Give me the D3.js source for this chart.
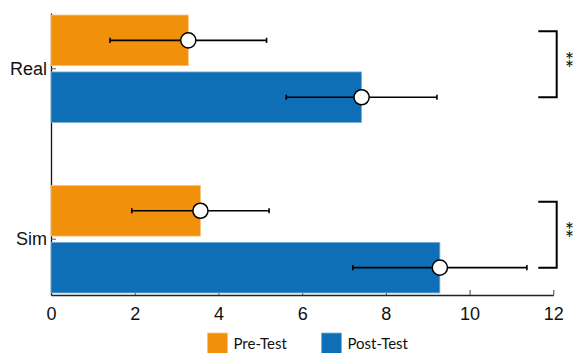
<!DOCTYPE html>
<html>
<head>
<meta charset="utf-8">
<script src="https://cdn.jsdelivr.net/npm/d3@7/dist/d3.min.js"></script>
<style>
  html, body { margin: 0; padding: 0; background: #fff; }
  svg { display: block; font-family: Lato, "Open Sans", sans-serif; }
</style>
</head>
<body>
<svg id="chart" width="573" height="353"></svg>
<script>
// Conditions and test phases
const categories = ["Real", "Sim"];
const phases = ["Pre-Test", "Post-Test"];

// Mean scores per condition
const preMeans = [3.28, 3.57];
const postMeans = [7.42, 9.29];

// Spread (± error) per condition
const preErr = [1.87, 1.64];
const postErr = [1.80, 2.08];

// Significance markers per condition
const sigLabels = ["**", "**"];

// Axis ticks
const xTicks = [0, 2, 4, 6, 8, 10, 12];

const colors = { "Pre-Test": "#F1910B", "Post-Test": "#0F6FB6" };
const edge = { "Pre-Test": "#F8C27A", "Post-Test": "#7FB2DC" };

const rows = categories.map((c, i) => ({
  cat: c,
  sig: sigLabels[i],
  items: [
    { phase: "Pre-Test", mean: preMeans[i], err: preErr[i] },
    { phase: "Post-Test", mean: postMeans[i], err: postErr[i] }
  ]
}));

const svg = d3.select("#chart");
const plotLeft = 51, plotRight = 553.3, plotTop = 13, plotBottom = 295;

const x = d3.scaleLinear().domain([0, 12]).range([plotLeft, plotRight]);
const y = d3.scaleBand().domain(categories).range([plotTop, plotBottom])
  .paddingInner(0.369).paddingOuter(0.012);
const yInner = d3.scaleBand().domain(phases).range([0, y.bandwidth()]).paddingInner(0.11);

// Axes (ticks point inward)
const xAxis = svg.append("g")
  .attr("transform", `translate(0,${plotBottom})`)
  .call(d3.axisBottom(x).tickValues(xTicks).tickSizeInner(-5).tickSizeOuter(0).tickPadding(12));
xAxis.select(".domain").attr("stroke", "#222").attr("stroke-width", 1.3);
xAxis.selectAll(".tick line").attr("stroke", "#444");
xAxis.selectAll("text").attr("font-size", 18).attr("fill", "#111");

const yAxis = svg.append("g")
  .attr("transform", `translate(${plotLeft},0)`)
  .call(d3.axisLeft(y).tickSizeInner(-5).tickSizeOuter(0).tickPadding(4));
yAxis.select(".domain").attr("stroke", "#111").attr("stroke-width", 1.3);
yAxis.selectAll(".tick line").attr("stroke", "#555");
yAxis.selectAll("text").attr("font-size", 18).attr("fill", "#111");

// Bars
const groups = svg.append("g").selectAll("g")
  .data(rows).join("g")
  .attr("transform", d => `translate(0,${y(d.cat)})`);

groups.selectAll("rect")
  .data(d => d.items).join("rect")
  .attr("x", x(0))
  .attr("y", d => yInner(d.phase))
  .attr("width", d => x(d.mean) - x(0))
  .attr("height", yInner.bandwidth())
  .attr("fill", d => colors[d.phase])
  .attr("stroke", d => edge[d.phase])
  .attr("stroke-width", 0.8);

// Error bars
const eb = groups.selectAll("g.err")
  .data(d => d.items).join("g").attr("class", "err")
  .attr("transform", d => `translate(0,${yInner(d.phase) + yInner.bandwidth() / 2})`);
eb.append("line")
  .attr("x1", d => x(d.mean - d.err)).attr("x2", d => x(d.mean + d.err))
  .attr("stroke", "#000").attr("stroke-width", 1.6);
eb.selectAll("line.cap")
  .data(d => [d.mean - d.err, d.mean + d.err]).join("line").attr("class", "cap")
  .attr("x1", v => x(v)).attr("x2", v => x(v))
  .attr("y1", -2.6).attr("y2", 2.6)
  .attr("stroke", "#000").attr("stroke-width", 1.6);
eb.append("circle")
  .attr("cx", d => x(d.mean)).attr("r", 7.6)
  .attr("fill", "#fff").attr("stroke", "#000").attr("stroke-width", 1.5);

// Significance brackets
const bx0 = 538.3, bx1 = 556.7;
const bracketEnds = d => [
  y(d.cat) + yInner("Pre-Test") + yInner.bandwidth() / 2 - 9,
  y(d.cat) + yInner("Post-Test") + yInner.bandwidth() / 2
];
const br = svg.append("g").selectAll("g").data(rows).join("g");
br.append("path")
  .attr("d", d => {
    const [y0, y1] = bracketEnds(d);
    return `M${bx0},${y0}H${bx1}V${y1}H${bx0}`;
  })
  .attr("fill", "none").attr("stroke", "#000").attr("stroke-width", 2);

// Stars stacked vertically beside each bracket
br.append("text")
  .attr("font-size", 22).attr("fill", "#111")
  .attr("text-anchor", "middle")
  .each(function (d) {
    const [y0, y1] = bracketEnds(d);
    const mid = (y0 + y1) / 2;
    d3.select(this).selectAll("tspan")
      .data(d.sig.split("")).join("tspan")
      .attr("x", 569.5)
      .attr("y", (c, i) => mid + 3.5 + i * 8)
      .text(c => c);
  });

// Legend
const legendX = [207.5, 321.5];
const lg = svg.append("g").selectAll("g").data(phases).join("g")
  .attr("transform", (d, i) => `translate(${legendX[i]},333)`);
lg.append("rect")
  .attr("width", 20).attr("height", 21)
  .attr("fill", d => colors[d]).attr("stroke", d => edge[d]).attr("stroke-width", 0.8);
lg.append("text")
  .attr("x", 26).attr("y", 16)
  .attr("font-size", 15).attr("fill", "#111")
  .text(d => d);
</script>
</body>
</html>
